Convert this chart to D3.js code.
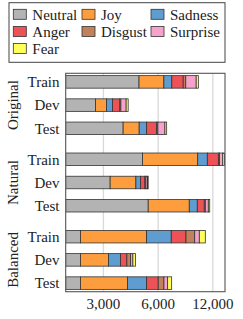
<!DOCTYPE html>
<html>
<head>
<meta charset="utf-8">
<script src="https://cdn.jsdelivr.net/npm/d3@7"></script>
<style>
  body { margin: 0; background: #fff; }
  svg { display: block; }
</style>
</head>
<body>
<div id="chart"></div>
<script>
const width = 243, height = 319;

// data
const groups = ["Original", "Natural", "Balanced"];
const splits = ["Train", "Dev", "Test"];
const emotions = ["Neutral", "Joy", "Sadness", "Anger", "Disgust", "Surprise", "Fear"];
const colors = ["#b3b3b3", "#fd9d3e", "#5f9ccf", "#ec5256", "#c1815c", "#f7a1cd", "#ffff59"];
const xTicks = [3000, 6000, 12000];

// counts per split, in emotion order
const originalCounts = [
  [4710, 1743, 683, 1109, 271, 1205, 268],
  [2714, 406, 247, 327, 48, 259, 104],
  [3852, 868, 465, 702, 97, 556, 145]
];
const naturalCounts = [
  [4928, 4979, 1283, 1680, 195, 543, 282],
  [3267, 1259, 280, 268, 66, 100, 50],
  [5292, 3613, 951, 915, 140, 424, 200]
];
const balancedCounts = [
  [2243, 2942, 1901, 1453, 999, 573, 798],
  [2243, 957, 527, 311, 194, 125, 152],
  [2243, 1831, 1111, 823, 451, 310, 353]
];
const allCounts = [originalCounts, naturalCounts, balancedCounts];

const svg = d3.select("#chart").append("svg")
  .attr("width", width)
  .attr("height", height);

const font = "'Liberation Serif', 'Times New Roman', serif";

// plot frame
const plotLeft = 65.7, plotRight = 225, plotTop = 73.3, plotBottom = 291.7;

const x = d3.scaleLog()
  .domain([1860, 14000])
  .range([plotLeft, plotRight]);

const yGroup = d3.scaleBand()
  .domain(groups)
  .range([plotTop, plotBottom])
  .paddingInner(0.178)
  .paddingOuter(0);

const ySplit = d3.scaleBand()
  .domain(splits)
  .range([0, yGroup.bandwidth()])
  .paddingInner(0.46)
  .paddingOuter(0.1);

// grid lines
svg.selectAll(".grid")
  .data(xTicks)
  .enter().append("line")
  .attr("x1", d => x(d))
  .attr("x2", d => x(d))
  .attr("y1", plotTop)
  .attr("y2", plotBottom)
  .attr("stroke", "#d9d9d9")
  .attr("stroke-width", 1.3);

// clip for bars
svg.append("clipPath").attr("id", "plotclip")
  .append("rect")
  .attr("x", plotLeft).attr("y", plotTop)
  .attr("width", plotRight - plotLeft).attr("height", plotBottom - plotTop);

const barLayer = svg.append("g").attr("clip-path", "url(#plotclip)");

groups.forEach((g, gi) => {
  allCounts[gi].forEach((counts, si) => {
    const y0 = yGroup(g) + ySplit(splits[si]);
    let cum = 0;
    counts.forEach((v, ei) => {
      const start = cum === 0 ? x.domain()[0] : cum;
      cum += v;
      barLayer.append("rect")
        .attr("x", x(start))
        .attr("y", y0)
        .attr("width", x(cum) - x(start))
        .attr("height", ySplit.bandwidth())
        .attr("fill", colors[ei])
        .attr("stroke", "#333")
        .attr("stroke-width", 0.8);
    });
  });
});

// frame
svg.append("rect")
  .attr("x", plotLeft)
  .attr("y", plotTop)
  .attr("width", plotRight - plotLeft)
  .attr("height", plotBottom - plotTop)
  .attr("fill", "none")
  .attr("stroke", "#555")
  .attr("stroke-width", 1.1);

// x tick labels
svg.selectAll(".xtick")
  .data(xTicks)
  .enter().append("text")
  .attr("x", d => x(d))
  .attr("y", plotBottom + 17)
  .attr("font-family", font)
  .attr("font-size", "15px")
  .attr("text-anchor", "middle")
  .attr("fill", "#222")
  .text(d => d3.format(",")(d));

// split labels + group labels
groups.forEach(g => {
  splits.forEach(s => {
    svg.append("text")
      .attr("x", 59.5)
      .attr("y", yGroup(g) + ySplit(s) + ySplit.bandwidth() / 2)
      .attr("dy", "0.35em")
      .attr("font-family", font)
      .attr("font-size", "15px")
      .attr("text-anchor", "end")
      .attr("fill", "#222")
      .text(s);
  });
  const cy = yGroup(g) + yGroup.bandwidth() / 2;
  svg.append("text")
    .attr("transform", `translate(13,${cy}) rotate(-90)`)
    .attr("dy", "0.35em")
    .attr("font-family", font)
    .attr("font-size", "15px")
    .attr("text-anchor", "middle")
    .attr("fill", "#222")
    .text(g);
});

// legend
svg.append("rect")
  .attr("x", 9)
  .attr("y", 2.7)
  .attr("width", 216)
  .attr("height", 59.6)
  .attr("fill", "#fff")
  .attr("stroke", "#444")
  .attr("stroke-width", 1);

const legCols = [13.3, 82, 151];
const legRows = [14.3, 31.5, 48.5];

emotions.forEach((e, i) => {
  const lx = legCols[i % 3], ly = legRows[Math.floor(i / 3)];
  svg.append("rect")
    .attr("x", lx)
    .attr("y", ly - 5)
    .attr("width", 13)
    .attr("height", 10)
    .attr("fill", colors[i])
    .attr("stroke", "#333")
    .attr("stroke-width", 0.8);
  svg.append("text")
    .attr("x", lx + 19)
    .attr("y", ly)
    .attr("dy", "0.35em")
    .attr("font-family", font)
    .attr("font-size", "15px")
    .attr("fill", "#222")
    .text(e);
});
</script>
</body>
</html>
